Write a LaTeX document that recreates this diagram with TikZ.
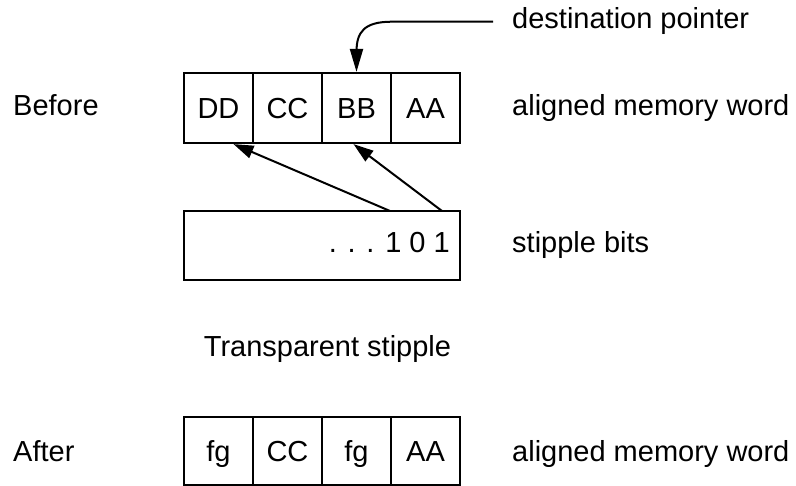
\documentclass[tikz,border=0pt]{standalone}
\usepackage{fontspec}
\setmainfont{Liberation Sans}
\usetikzlibrary{arrows.meta,calc}
\begin{document}
\begin{tikzpicture}[x=1pt,y=-1pt,
  every node/.style={font=\fontsize{29}{34}\selectfont, inner sep=0pt},
  cell/.style={draw, line width=2.2pt, minimum width=69pt, minimum height=70pt, text height=21pt, text depth=0pt},
  lbl/.style={anchor=base west},
  ptr/.style={line width=2pt, -{Triangle[length=20pt,width=13pt]}},
  bigptr/.style={line width=2pt, -{Triangle[length=23pt,width=13pt]}}
]
\useasboundingbox (0,0) rectangle (796,486);

% before row
\node[cell] (dd) at (218.5,108) {DD};
\node[cell] (cc) at (287.5,108) {CC};
\node[cell] (bb) at (356.5,108) {BB};
\node[cell] (aa) at (425.5,108) {AA};
\node[lbl] (before) at (13,116) {Before};
\node[lbl] (amw1) at (512,116) {aligned memory word};

% destination pointer
\node[lbl] (dest) at (512,29) {destination pointer};
\coordinate (dp) at (493,21.7);
\draw[bigptr] (dp) -- (392,21.7) .. controls (364,21.7) and (356.5,32) .. (356.5,52) -- (bb.north);

% stipple bits
\node[draw, line width=2.2pt, minimum width=276pt, minimum height=69pt] (stip) at (322,245.5) {};
\node[anchor=base east] (bits) at (450,253) {. . . 1 0 1};
\node[lbl] (sbits) at (512,253) {stipple bits};
\coordinate (s1) at (390,211);
\coordinate (s2) at (442,211);
\draw[ptr] (s1) -- ($(dd.south)+(15,0)$);
\draw[ptr] (s2) -- ($(bb.south)+(-3,0)$);

% caption
\node[anchor=base] (cap) at (327.5,357) {Transparent stipple};

% after row
\node[cell, minimum height=68pt] (fg1) at (218.5,451) {fg};
\node[cell, minimum height=68pt] (cc2) at (287.5,451) {CC};
\node[cell, minimum height=68pt] (fg2) at (356.5,451) {fg};
\node[cell, minimum height=68pt] (aa2) at (425.5,451) {AA};
\node[lbl] (after) at (13,462) {After};
\node[lbl] (amw2) at (512,462) {aligned memory word};
\end{tikzpicture}
\end{document}
